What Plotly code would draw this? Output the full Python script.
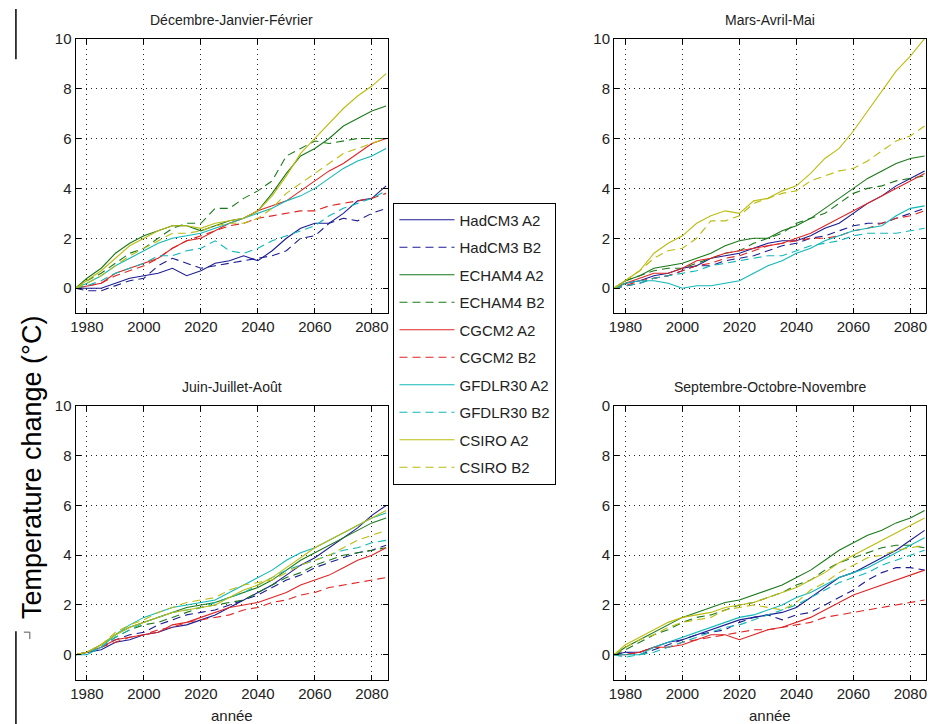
import plotly.graph_objects as go

# ---------------- data ----------------
YEARS = [1976, 1980, 1985, 1990, 1995, 2000, 2005, 2010, 2015, 2020, 2025, 2030,
         2035, 2040, 2045, 2050, 2055, 2060, 2065, 2070, 2075, 2080, 2085]

SERIES = ["HadCM3 A2", "HadCM3 B2", "ECHAM4 A2", "ECHAM4 B2", "CGCM2 A2",
          "CGCM2 B2", "GFDLR30 A2", "GFDLR30 B2", "CSIRO A2", "CSIRO B2"]

PANEL_TITLES = ["Décembre-Janvier-Février", "Mars-Avril-Mai",
                "Juin-Juillet-Août", "Septembre-Octobre-Novembre"]

X_TICKS = [1980, 2000, 2020, 2040, 2060, 2080]
Y_TICKS = [0, 2, 4, 6, 8, 10]
Y_TICKTEXT_SON = ["0", "2", "4", "6", "8", "0"]

DJF = [
    [0, 0.0, 0.0, 0.2, 0.4, 0.5, 0.6, 0.8, 0.5, 0.7, 1.0, 1.1, 1.3, 1.1, 1.5, 2.0, 2.4, 2.6, 2.6, 3.0, 3.5, 3.6, 4.1],
    [0, -0.1, -0.1, 0.1, 0.3, 0.4, 0.9, 1.2, 1.0, 0.8, 0.9, 1.0, 1.1, 1.2, 1.3, 1.5, 2.0, 2.1, 2.6, 2.8, 2.7, 3.0, 3.2],
    [0, 0.4, 0.8, 1.4, 1.8, 2.1, 2.3, 2.5, 2.5, 2.3, 2.5, 2.7, 2.8, 3.1, 3.8, 4.6, 5.3, 5.6, 6.0, 6.5, 6.8, 7.1, 7.3],
    [0, 0.3, 0.6, 1.0, 1.4, 1.6, 2.0, 2.4, 2.6, 2.6, 3.2, 3.2, 3.6, 3.9, 4.3, 5.3, 5.6, 5.9, 5.8, 5.9, 6.0, 6.0, 6.0],
    [0, 0.1, 0.2, 0.6, 0.8, 1.0, 1.2, 1.6, 1.9, 2.0, 2.3, 2.6, 2.8, 3.1, 3.3, 3.5, 3.9, 4.3, 4.7, 5.0, 5.4, 5.8, 6.0],
    [0, 0.1, 0.2, 0.5, 0.7, 0.9, 1.2, 1.6, 1.9, 2.1, 2.3, 2.5, 2.6, 2.8, 2.9, 3.0, 3.1, 3.1, 3.3, 3.4, 3.5, 3.6, 3.8],
    [0, 0.2, 0.5, 0.9, 1.2, 1.5, 1.8, 2.0, 2.1, 2.2, 2.4, 2.6, 2.8, 3.0, 3.2, 3.5, 3.7, 4.0, 4.4, 4.8, 5.1, 5.3, 5.6],
    [0, 0.1, 0.3, 0.6, 0.8, 1.0, 1.3, 1.3, 1.5, 1.6, 1.9, 1.5, 1.4, 1.6, 1.9, 2.1, 2.3, 2.5, 2.9, 3.2, 3.4, 3.6, 3.9],
    [0, 0.3, 0.7, 1.2, 1.7, 2.0, 2.3, 2.5, 2.5, 2.4, 2.6, 2.7, 2.8, 3.1, 3.7, 4.5, 5.4, 6.0, 6.6, 7.2, 7.7, 8.1, 8.6],
    [0, 0.2, 0.5, 0.9, 1.3, 1.6, 1.9, 2.2, 2.2, 2.3, 2.5, 2.6, 2.6, 2.8, 3.2, 3.8, 4.2, 4.6, 5.0, 5.4, 5.6, 5.8, 6.0],
]

MAM = [
    [0, 0.2, 0.3, 0.5, 0.6, 0.8, 0.9, 1.2, 1.3, 1.4, 1.6, 1.8, 1.9, 1.9, 2.1, 2.4, 2.6, 3.0, 3.4, 3.7, 4.1, 4.4, 4.7],
    [0, 0.1, 0.2, 0.4, 0.5, 0.7, 0.9, 0.9, 1.1, 1.2, 1.3, 1.5, 1.7, 1.8, 2.0, 2.1, 2.3, 2.5, 2.6, 2.6, 2.8, 3.0, 3.2],
    [0, 0.3, 0.5, 0.8, 0.9, 1.0, 1.2, 1.4, 1.7, 1.9, 2.0, 2.0, 2.3, 2.5, 2.8, 3.2, 3.6, 4.0, 4.4, 4.7, 5.0, 5.2, 5.3],
    [0, 0.3, 0.5, 0.7, 0.8, 0.8, 1.0, 1.2, 1.4, 1.5, 1.8, 2.0, 2.2, 2.6, 2.8, 3.0, 3.4, 3.8, 4.0, 4.1, 4.3, 4.4, 4.5],
    [0, 0.2, 0.4, 0.6, 0.6, 0.8, 1.1, 1.2, 1.4, 1.5, 1.6, 1.7, 1.8, 2.0, 2.2, 2.5, 2.8, 3.1, 3.4, 3.7, 4.0, 4.3, 4.6],
    [0, 0.1, 0.3, 0.4, 0.5, 0.7, 0.9, 1.0, 1.2, 1.3, 1.5, 1.7, 1.8, 1.9, 2.0, 2.0, 2.1, 2.3, 2.4, 2.6, 2.8, 2.9, 3.1],
    [0, 0.2, 0.3, 0.3, 0.2, 0.0, 0.1, 0.1, 0.2, 0.3, 0.6, 0.9, 1.1, 1.4, 1.6, 1.9, 2.1, 2.3, 2.4, 2.5, 2.9, 3.2, 3.3],
    [0, 0.1, 0.2, 0.4, 0.5, 0.6, 0.7, 0.9, 1.0, 1.1, 1.2, 1.3, 1.3, 1.5, 1.7, 1.8, 1.9, 2.1, 2.2, 2.2, 2.2, 2.3, 2.4],
    [0, 0.3, 0.7, 1.4, 1.8, 2.1, 2.6, 2.9, 3.1, 3.0, 3.5, 3.6, 3.9, 4.1, 4.6, 5.2, 5.6, 6.3, 7.1, 7.9, 8.7, 9.3, 10.0],
    [0, 0.3, 0.7, 1.2, 1.5, 1.6, 2.0, 2.7, 2.7, 2.9, 3.4, 3.6, 3.8, 3.9, 4.3, 4.5, 4.7, 4.8, 5.1, 5.5, 5.9, 6.1, 6.5],
]

JJA = [
    [0, 0.1, 0.2, 0.5, 0.6, 0.8, 0.9, 1.1, 1.2, 1.4, 1.6, 1.9, 2.2, 2.5, 2.8, 3.2, 3.6, 3.9, 4.3, 4.7, 5.1, 5.6, 6.0],
    [0, 0.1, 0.3, 0.6, 0.8, 0.9, 1.2, 1.4, 1.6, 1.7, 1.8, 2.0, 2.2, 2.4, 2.7, 3.0, 3.2, 3.5, 3.7, 3.9, 4.1, 4.2, 4.4],
    [0, 0.1, 0.4, 0.8, 1.1, 1.3, 1.5, 1.7, 1.9, 2.0, 2.1, 2.3, 2.5, 2.7, 3.0, 3.4, 3.8, 4.1, 4.4, 4.7, 5.0, 5.3, 5.5],
    [0, 0.1, 0.3, 0.7, 1.0, 1.2, 1.3, 1.5, 1.7, 1.9, 2.0, 2.1, 2.2, 2.5, 2.8, 3.1, 3.3, 3.6, 3.8, 4.0, 4.1, 4.2, 4.3],
    [0, 0.1, 0.3, 0.6, 0.7, 0.8, 0.9, 1.2, 1.3, 1.5, 1.7, 1.9, 2.0, 2.1, 2.3, 2.5, 2.8, 3.0, 3.2, 3.5, 3.8, 4.0, 4.3],
    [0, 0.1, 0.3, 0.5, 0.7, 0.8, 1.0, 1.1, 1.3, 1.4, 1.5, 1.6, 1.8, 1.9, 2.1, 2.2, 2.4, 2.5, 2.7, 2.8, 2.9, 3.0, 3.1],
    [0, 0.0, 0.3, 0.8, 1.2, 1.5, 1.7, 1.9, 2.0, 2.1, 2.2, 2.5, 2.8, 3.1, 3.4, 3.8, 4.1, 4.3, 4.6, 4.9, 5.2, 5.5, 5.7],
    [0, 0.1, 0.3, 0.7, 1.0, 1.3, 1.5, 1.7, 1.8, 1.9, 2.1, 2.3, 2.5, 2.8, 3.1, 3.4, 3.6, 3.8, 4.0, 4.2, 4.3, 4.5, 4.6],
    [0, 0.1, 0.4, 0.8, 1.1, 1.3, 1.5, 1.7, 1.8, 1.9, 2.0, 2.3, 2.6, 2.8, 3.1, 3.5, 3.9, 4.3, 4.6, 4.9, 5.2, 5.5, 5.8],
    [0, 0.1, 0.4, 0.9, 1.2, 1.4, 1.7, 1.9, 2.1, 2.2, 2.3, 2.6, 2.8, 2.9, 3.0, 3.3, 3.6, 3.8, 4.0, 4.3, 4.6, 4.8, 5.0],
]

SON = [
    [0, 0.1, 0.1, 0.3, 0.5, 0.6, 0.8, 1.0, 1.2, 1.4, 1.5, 1.6, 1.7, 1.9, 2.3, 2.7, 3.1, 3.3, 3.6, 3.9, 4.2, 4.6, 5.0],
    [0, 0.1, 0.0, 0.2, 0.4, 0.6, 0.8, 0.9, 1.0, 1.3, 1.5, 1.6, 1.4, 1.6, 1.7, 2.0, 2.3, 2.6, 3.0, 3.3, 3.5, 3.5, 3.4],
    [0, 0.3, 0.6, 0.9, 1.2, 1.5, 1.7, 1.9, 2.1, 2.2, 2.4, 2.6, 2.8, 3.1, 3.4, 3.8, 4.2, 4.5, 4.8, 5.0, 5.3, 5.5, 5.8],
    [0, 0.2, 0.5, 0.8, 1.0, 1.3, 1.5, 1.6, 1.8, 2.0, 2.1, 2.3, 2.5, 2.8, 3.0, 3.4, 3.7, 3.9, 4.1, 4.3, 4.4, 4.4, 4.3],
    [0, 0.0, 0.1, 0.3, 0.3, 0.4, 0.6, 0.8, 0.8, 0.6, 0.8, 1.0, 1.1, 1.3, 1.5, 1.8, 2.1, 2.4, 2.6, 2.8, 3.0, 3.2, 3.4],
    [0, 0.0, 0.1, 0.3, 0.3, 0.5, 0.6, 0.7, 0.8, 0.9, 1.0, 1.0, 1.1, 1.2, 1.3, 1.5, 1.6, 1.7, 1.8, 1.9, 2.0, 2.1, 2.2],
    [0, 0.0, 0.0, 0.3, 0.5, 0.7, 0.9, 1.1, 1.3, 1.5, 1.6, 1.8, 2.0, 2.3, 2.5, 2.8, 3.1, 3.3, 3.5, 3.8, 4.1, 4.4, 4.7],
    [0, -0.1, 0.0, 0.1, 0.3, 0.5, 0.7, 0.9, 1.1, 1.2, 1.4, 1.6, 1.8, 2.0, 2.3, 2.6, 2.9, 3.1, 3.3, 3.6, 3.8, 4.0, 4.2],
    [0, 0.4, 0.7, 1.0, 1.3, 1.5, 1.6, 1.7, 1.9, 2.0, 2.1, 2.3, 2.5, 2.7, 3.0, 3.3, 3.7, 4.0, 4.3, 4.6, 4.9, 5.2, 5.5],
    [0, 0.3, 0.6, 0.8, 1.1, 1.3, 1.4, 1.5, 1.8, 1.9, 2.0, 1.9, 1.8, 2.1, 2.6, 2.9, 3.3, 3.6, 3.9, 4.0, 4.2, 4.3, 4.4],
]

# ---------------- styling ----------------
COLORS = ["#1c1c96", "#1c1c96", "#1a7a1a", "#1a7a1a", "#e02424", "#e02424",
          "#10b8b8", "#10b8b8", "#bcbc10", "#bcbc10"]
DASHES = ["solid", "8px,5px"] * 5

W, H = 932, 724
FONT = "Liberation Sans, Arial, sans-serif"


def px_x(v):
    return v / W


def px_y(v):
    return 1 - v / H


# panel boxes in pixels (left, right, top, bottom)
BOXES = [(71, 385, 30, 308), (613, 927, 30, 308),
         (71, 385, 402, 679), (613, 927, 402, 679)]
PANELS = [DJF, MAM, JJA, SON]

fig = go.Figure()

for p, (data, box) in enumerate(zip(PANELS, BOXES)):
    xa = "x" if p == 0 else f"x{p + 1}"
    ya = "y" if p == 0 else f"y{p + 1}"
    for i, name in enumerate(SERIES):
        fig.add_trace(go.Scatter(
            x=YEARS, y=data[i], mode="lines", name=name,
            line=dict(color=COLORS[i], width=1.1, dash=DASHES[i]),
            xaxis=xa, yaxis=ya, legendgroup=f"g{i}",
            showlegend=(p == 0),
        ))

axis_common = dict(
    showline=True, linecolor="black", linewidth=1, mirror="ticks",
    ticks="inside", ticklen=5, tickcolor="black",
    showgrid=True, gridcolor="#222", griddash="1px,4px", gridwidth=1,
    zeroline=False, tickfont=dict(family=FONT, size=15, color="#222"),
)

layout = {}
for p, box in enumerate(BOXES):
    l, r, t, b = box
    xk = "xaxis" if p == 0 else f"xaxis{p + 1}"
    yk = "yaxis" if p == 0 else f"yaxis{p + 1}"
    ya = "y" if p == 0 else f"y{p + 1}"
    xa = "x" if p == 0 else f"x{p + 1}"
    layout[xk] = dict(axis_common, domain=[px_x(l), px_x(r)], range=[1976, 2085.5],
                      tickvals=X_TICKS, anchor=ya)
    ytext = Y_TICKTEXT_SON if p == 3 else [str(v) for v in Y_TICKS]
    layout[yk] = dict(axis_common, domain=[px_y(b), px_y(t)], range=[-1, 10],
                      tickvals=Y_TICKS, ticktext=ytext, anchor=xa)

annotations = []
for p, box in enumerate(BOXES):
    l, r, t, b = box
    annotations.append(dict(
        text=PANEL_TITLES[p], x=px_x((l + r) / 2), y=px_y(t - 19),
        xref="paper", yref="paper", showarrow=False, xanchor="center",
        yanchor="middle", font=dict(family=FONT, size=14, color="#222")))
    if p >= 2:
        annotations.append(dict(
            text="année", x=px_x((l + r) / 2), y=px_y(715),
            xref="paper", yref="paper", showarrow=False, xanchor="center",
            yanchor="middle", font=dict(family=FONT, size=15, color="#222")))

annotations.append(dict(
    text="Temperature change (°C)", x=px_x(27), y=px_y(464),
    xref="paper", yref="paper", showarrow=False, textangle=-90,
    xanchor="center", yanchor="middle",
    font=dict(family=FONT, size=27, color="black")))

shapes = [
    dict(type="line", xref="paper", yref="paper", x0=px_x(11), x1=px_x(11),
         y0=px_y(0), y1=px_y(51), line=dict(color="black", width=1.5)),
    dict(type="line", xref="paper", yref="paper", x0=px_x(11), x1=px_x(11),
         y0=px_y(630), y1=px_y(724), line=dict(color="black", width=1.5)),
    dict(type="path", xref="paper", yref="paper",
         path=f"M {px_x(19)} {px_y(631)} L {px_x(25)} {px_y(631)} L {px_x(25)} {px_y(638)}",
         line=dict(color="#555", width=1)),
]

fig.update_layout(
    width=W, height=H, margin=dict(l=0, r=0, t=0, b=0),
    paper_bgcolor="white", plot_bgcolor="white",
    font=dict(family=FONT, color="#222"),
    showlegend=True,
    legend=dict(
        x=px_x(391), y=px_y(196), xanchor="left", yanchor="top",
        bgcolor="white", bordercolor="black", borderwidth=1,
        font=dict(family=FONT, size=15, color="#222"),
        tracegroupgap=5, traceorder="grouped", itemwidth=55,
    ),
    annotations=annotations, shapes=shapes,
    **layout,
)

fig.write_html(
    "out.html",
    config={"displayModeBar": False},
    post_script="document.body.style.margin='0';document.body.style.overflow='hidden';",
)
